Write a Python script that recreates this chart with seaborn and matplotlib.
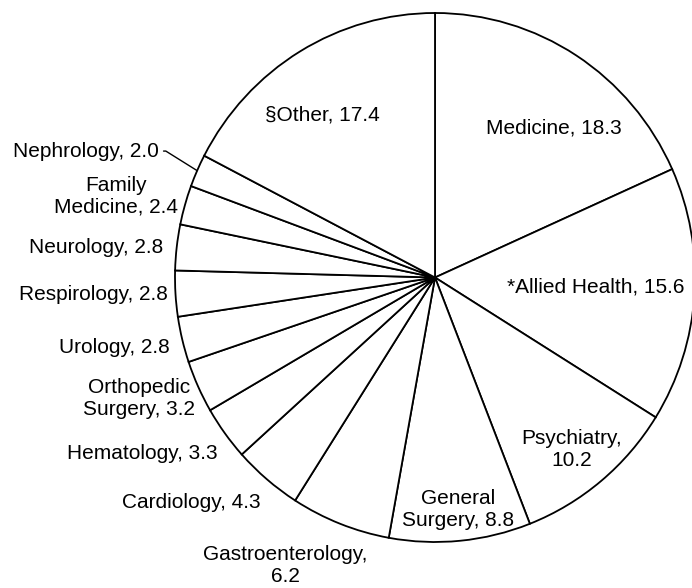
import numpy as np
import matplotlib
matplotlib.use("Agg")
import matplotlib.pyplot as plt
import seaborn as sns

# --- data ---
names = ["Medicine", "*Allied Health", "Psychiatry", "General\nSurgery", "Gastroenterology",
         "Cardiology", "Hematology", "Orthopedic\nSurgery", "Urology", "Respirology",
         "Neurology", "Family\nMedicine", "Nephrology", "\u00a7Other"]
values = [18.3, 15.6, 10.2, 8.8, 6.2, 4.3, 3.3, 3.2, 2.8, 2.8, 2.8, 2.4, 2.0, 17.4]
seps = [", ", ", ", ",\n", ", ", ",\n", ", ", ", ", ", ", ", ", ", ", ", ", ", ", ", ", ", "]

# label placement (axes data units, pie radius = 1)
label_pos = [(0.458, 0.565), (0.619, -0.036), (0.527, -0.652), (0.088, -0.879),
             (-0.577, -1.087), (-0.938, -0.849), (-1.127, -0.667), (-1.138, -0.456),
             (-1.235, -0.265), (-1.312, -0.066), (-1.304, 0.115), (-1.227, 0.308),
             None, (-0.435, 0.614)]

sns.set_theme(style="white")
plt.rcParams["font.family"] = ["Liberation Sans", "DejaVu Sans"]
plt.rcParams["text.color"] = "black"

fig = plt.figure(figsize=(6.92, 5.88), dpi=100)
ax = fig.add_axes([175 / 692, 46 / 588, 520 / 692, 529 / 588])

wedges, _ = ax.pie(values, startangle=90, counterclock=False,
                   colors=["white"] * len(values),
                   wedgeprops=dict(edgecolor="black", linewidth=1.3))
ax.set_aspect("auto")
ax.set_xlim(-1, 1)
ax.set_ylim(-1, 1)
ax.axis("off")

for i, (name, val, sep) in enumerate(zip(names, values, seps)):
    txt = f"{name}{sep}{val:.1f}"
    if label_pos[i] is None:
        # leader line from the label to the wedge edge
        w = wedges[i]
        mid = np.deg2rad((w.theta1 + w.theta2) / 2)
        ax.annotate(txt, xy=(np.cos(mid), np.sin(mid)), xytext=(-1.062, 0.478),
                    ha="right", va="center", fontsize=15, annotation_clip=False,
                    arrowprops=dict(arrowstyle="-", color="black", lw=1.0,
                                    relpos=(1, 0.5), shrinkA=1, shrinkB=0,
                                    connectionstyle="angle,angleA=0,angleB=-32,rad=0"))
    else:
        x, y = label_pos[i]
        ax.text(x, y, txt, ha="center", va="center", fontsize=15,
                multialignment="center", clip_on=False)

fig.savefig("out.png", dpi=100)
